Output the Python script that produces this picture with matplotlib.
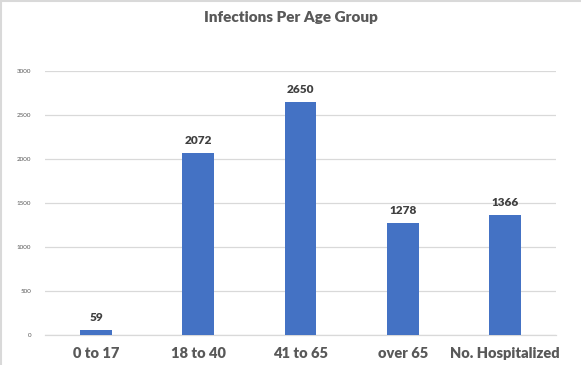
import matplotlib
matplotlib.use("Agg")
import matplotlib.pyplot as plt
from matplotlib.lines import Line2D

categories = ["0 to 17", "18 to 40", "41 to 65", "over 65", "No. Hospitalized"]
values = [59, 2072, 2650, 1278, 1366]
yticks = [0, 500, 1000, 1500, 2000, 2500, 3000]

plt.rcParams['font.family'] = ['Lato', 'DejaVu Sans']

fig = plt.figure(figsize=(5.81, 3.65), dpi=100)
ax = fig.add_axes([45/581, 1-335/365, (556-45)/581, (335-71)/365])

x = range(len(categories))
bars = ax.bar(x, values, width=0.31, color="#4472C4", zorder=3)
ax.set_xlim(-0.5, len(categories)-0.5)
ax.set_ylim(0, 3000)
ax.set_yticks(yticks)
ax.set_yticklabels([str(t) for t in yticks], fontsize=4.5, color="#595959")
ax.set_xticks(list(x))
ax.set_xticklabels(categories, fontsize=10.5, fontweight="heavy", color="#595959")
ax.tick_params(axis='both', length=0)
ax.tick_params(axis='x', pad=9)
ax.tick_params(axis='y', pad=10)
ax.grid(axis='y', color="#d9d9d9", linewidth=0.9, zorder=0)
for s in ["top", "right", "left"]:
    ax.spines[s].set_visible(False)
ax.spines["bottom"].set_color("#d9d9d9")
ax.spines["bottom"].set_linewidth(0.9)

for xi, v in zip(x, values):
    ax.annotate(str(v), (xi, v), xytext=(0, 5), textcoords="offset points",
                ha="center", va="bottom", fontsize=8.5, fontweight="heavy", color="#404040")

fig.text(0.5, 1-17/365, "Infections Per Age Group", ha="center", va="center",
         fontsize=11, fontweight="heavy", color="#595959")

fig.add_artist(Line2D([0.5/581, 0.5/581], [0, 1], transform=fig.transFigure, color="#d9d9d9", linewidth=1.5))
fig.add_artist(Line2D([0, 1], [1-0.5/365, 1-0.5/365], transform=fig.transFigure, color="#d9d9d9", linewidth=1.5))

fig.savefig("out.png", dpi=100)
